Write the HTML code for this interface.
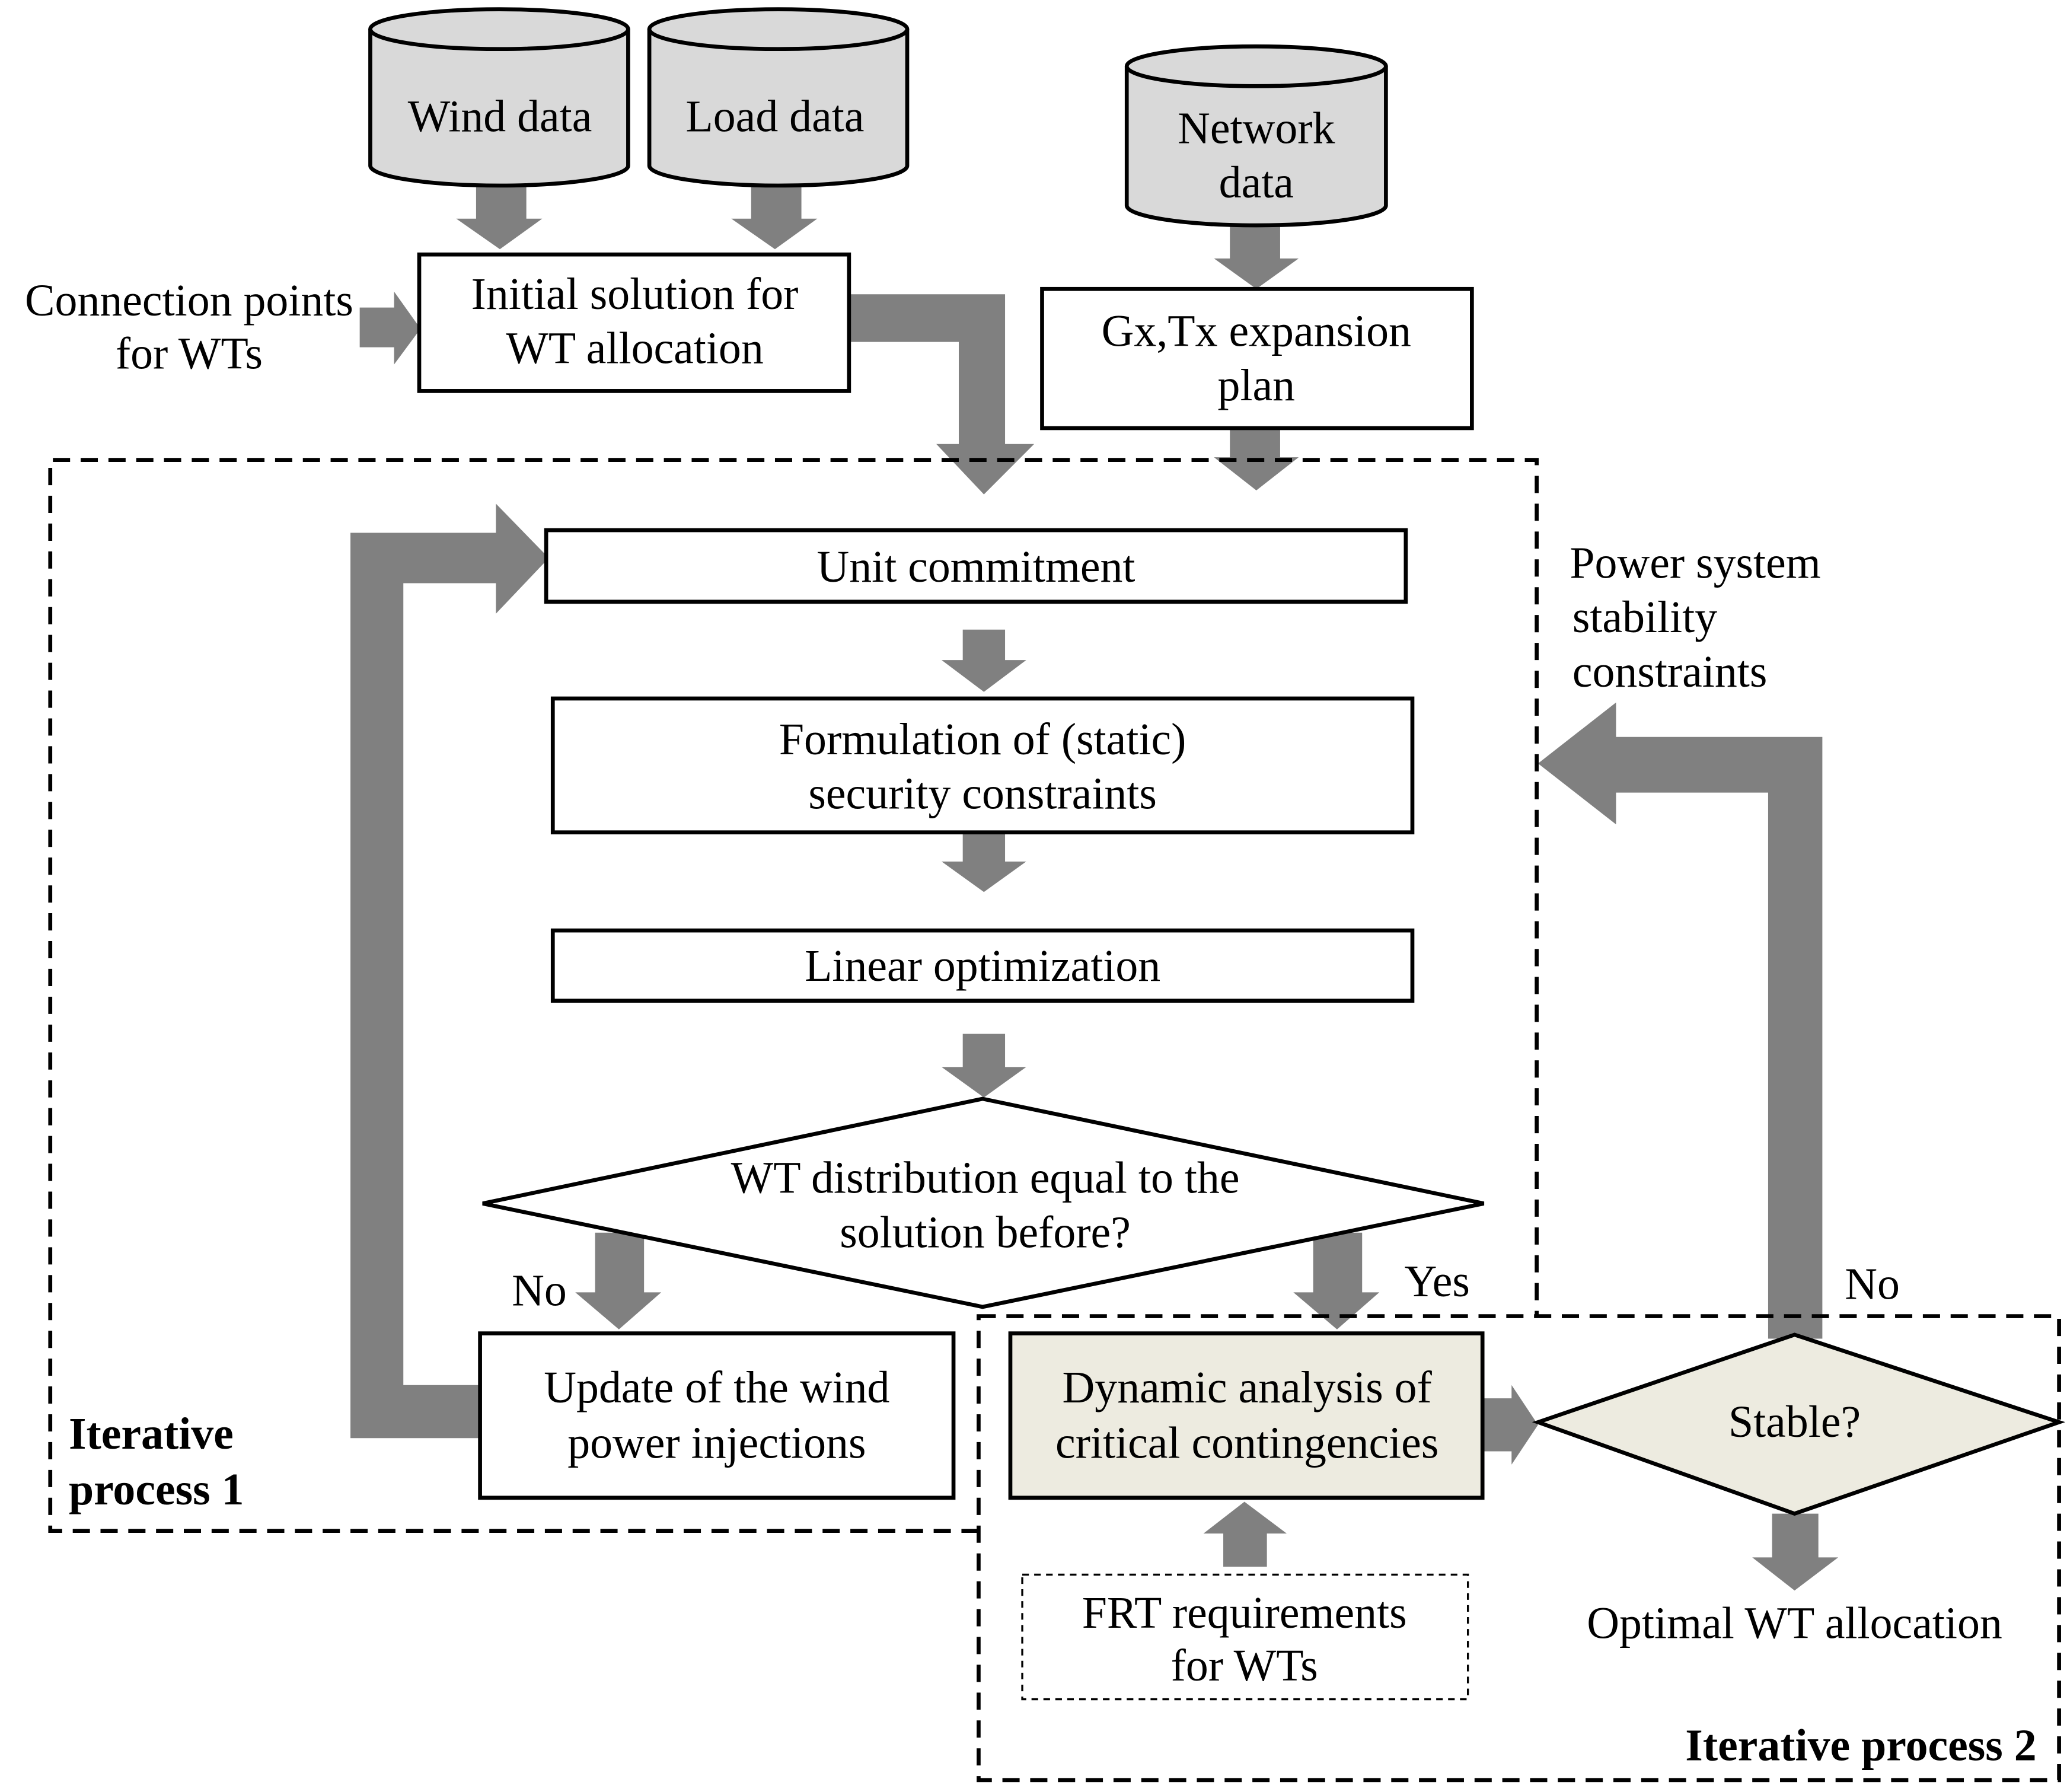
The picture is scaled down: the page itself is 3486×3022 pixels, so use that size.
<!DOCTYPE html>
<html><head><meta charset="utf-8"><style>html,body{margin:0;padding:0;background:#fff}svg{display:block}text{font-family:"Liberation Serif",serif;font-size:34px;fill:#000}</style></head><body>
<svg width="3486" height="3022" viewBox="0 0 1563 1352" preserveAspectRatio="none" xmlns="http://www.w3.org/2000/svg">
<g fill="#808080" stroke="none">
<polygon points="360,140 398,140 398,165 410,165 378,188 345,165 360,165"/>
<polygon points="568,140 606,140 606,165 618,165 586,188 553,165 568,165"/>
<polygon points="930,170 968,170 968,195 982,195 950,218 918,195 930,195"/>
<polygon points="930,323 968,323 968,345 982,345 950,370 918,345 930,345"/>
<polygon points="272,232 298,232 298,220 318,248 298,275 298,262 272,262"/>
<polygon points="642,222 760,222 760,335 782,335 744,373 708,335 725,335 725,258 642,258"/>
<polygon points="265,1085 363,1085 363,1045 305,1045 305,440 375,440 375,463 415,421 375,380 375,402 265,402"/>
<polygon points="728,475 760,475 760,498 776,498 744,522 712,498 728,498"/>
<polygon points="728,628 760,628 760,650 776,650 744,673 712,650 728,650"/>
<polygon points="728,780 760,780 760,805 776,805 744,828 712,805 728,805"/>
<polygon points="450,930 487,930 487,975 500,975 468,1003 435,975 450,975"/>
<polygon points="993,930 1030,930 1030,975 1043,975 1011,1003 978,975 993,975"/>
<polygon points="1121,1055 1143,1055 1143,1045 1163,1075 1143,1105 1143,1095 1121,1095"/>
<polygon points="1337,1010 1378,1010 1378,556 1222,556 1222,530 1163,576 1222,622 1222,598 1337,598"/>
<polygon points="1340,1142 1375,1142 1375,1175 1390,1175 1357,1200 1325,1175 1340,1175"/>
<polygon points="925,1182 958,1182 958,1157 973,1157 941,1133 910,1157 925,1157"/>
</g>
<g fill="#d9d9d9" stroke="#000" stroke-width="3">
<path d="M280,22 L280,125 A97.5,15 0 0 0 475,125 L475,22"/>
<ellipse cx="377.5" cy="22" rx="97.5" ry="15"/>
<path d="M491,22 L491,125 A97.5,15 0 0 0 686,125 L686,22"/>
<ellipse cx="588.5" cy="22" rx="97.5" ry="15"/>
<path d="M852,50 L852,155 A98,15 0 0 0 1048,155 L1048,50"/>
<ellipse cx="950" cy="50" rx="98" ry="15"/>
</g>
<g fill="#fff" stroke="#000" stroke-width="3">
<rect x="317" y="192" width="325" height="103"/>
<rect x="788" y="218" width="325" height="105"/>
<rect x="413" y="400" width="650" height="54"/>
<rect x="418" y="527" width="650" height="101"/>
<rect x="418" y="702" width="650" height="53"/>
<polygon points="743,829 1122,908 743,986 365,908"/>
<rect x="363" y="1006" width="358" height="124"/>
<rect x="764" y="1006" width="357" height="124" fill="#edebe0"/>
<polygon points="1163,1073 1357,1007 1557,1073 1357,1142" fill="#edebe0"/>
</g>
<rect x="773" y="1188" width="337" height="94" fill="none" stroke="#000" stroke-width="1.5" stroke-dasharray="5,4"/>
<g fill="none" stroke="#000" stroke-width="3" stroke-dasharray="13,8">
<path d="M740,1155 L38,1155 L38,347 L1162,347 L1162,993"/>
<rect x="740" y="993" width="817" height="350"/>
</g>
<g text-anchor="middle">
<text x="378" y="99">Wind data</text>
<text x="586" y="99">Load data</text>
<text x="950" y="108">Network</text>
<text x="950" y="149">data</text>
<text x="480" y="233">Initial solution for</text>
<text x="480" y="274">WT allocation</text>
<text x="950" y="261">Gx,Tx expansion</text>
<text x="950" y="302">plan</text>
<text x="738" y="439">Unit commitment</text>
<text x="743" y="569">Formulation of (static)</text>
<text x="743" y="610">security constraints</text>
<text x="743" y="740">Linear optimization</text>
<text x="745" y="900">WT distribution equal to the</text>
<text x="745" y="941">solution before?</text>
<text x="542" y="1058">Update of the wind</text>
<text x="542" y="1100">power injections</text>
<text x="943" y="1058">Dynamic analysis of</text>
<text x="943" y="1100">critical contingencies</text>
<text x="1357" y="1084">Stable?</text>
<text x="941" y="1228">FRT requirements</text>
<text x="941" y="1268">for  WTs</text>
<text x="1357" y="1236">Optimal WT allocation</text>
<text x="143" y="238">Connection points</text>
<text x="143" y="278">for WTs</text>
</g>
<text x="387" y="985">No</text>
<text x="1062" y="978">Yes</text>
<text x="1395" y="980">No</text>
<text x="1187" y="436">Power system</text>
<text x="1189" y="477">stability</text>
<text x="1189" y="518">constraints</text>
<text x="52" y="1093" style="font-weight:bold">Iterative</text>
<text x="52" y="1135" style="font-weight:bold">process 1</text>
<text x="1540" y="1328" text-anchor="end" style="font-weight:bold">Iterative process 2</text>
</svg>
</body></html>
